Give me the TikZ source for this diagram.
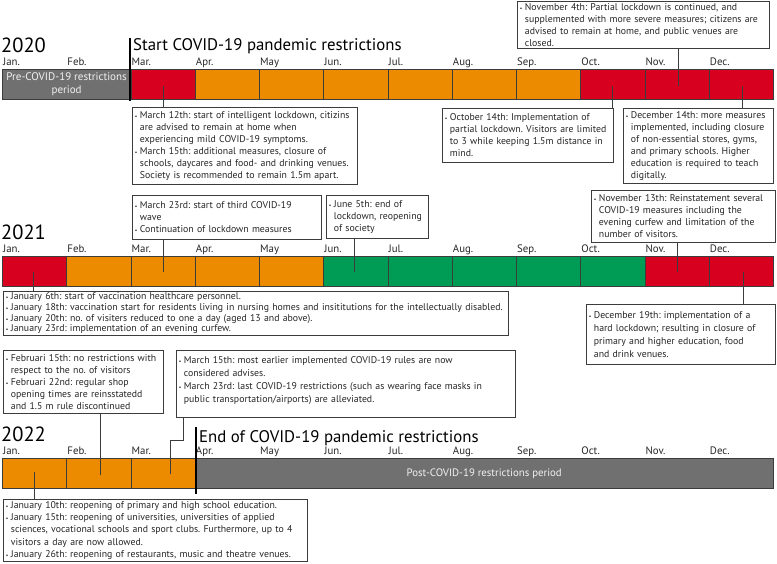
\documentclass[tikz,border=0pt]{standalone}
\usepackage{fontspec}
\setmainfont{PT Sans}
\frenchspacing
\newcommand\bul{\makebox[5pt][l]{\fontsize{5.5}{5.5}\selectfont\textbullet}}
\newcommand\sig{\hspace*{5pt}}
\begin{document}
\begin{tikzpicture}[x=1pt,y=-1pt,
        celda/.style={draw=linea, line width=0.7pt, anchor=north west, inner sep=0pt,
            minimum height=30pt, minimum width=64.25pt},
        caja/.style={draw=linea, line width=0.8pt, fill=white, anchor=north west, align=left,
            inner xsep=2.5pt, inner ysep=1pt, text=black!85, font=\fontsize{9.8}{12}\selectfont},
        mes/.style={anchor=base west, inner sep=0pt, text=black!85, font=\fontsize{10.8}{12}\selectfont},
        anio/.style={anchor=base west, inner sep=0pt, font=\fontsize{20.5}{22}\selectfont},
        titulo/.style={anchor=base west, inner sep=0pt, font=\fontsize{16.8}{18}\selectfont},
        conector/.style={draw=linea, line width=0.8pt},
        marca/.style={line width=2pt}]
        %colores
        \definecolor{rojo}{RGB}{216,0,31}
        \definecolor{nar}{RGB}{236,139,0}
        \definecolor{verde}{RGB}{0,155,85}
        \definecolor{gris}{RGB}{112,112,112}
        \definecolor{linea}{RGB}{60,60,60}

        \useasboundingbox (0,0) rectangle (777,563);

        %anios y meses
        \foreach \yr/\yy in {2020/69,2021/256,2022/458}{
            \node[anio] (y\yr) at (1,{\yy-17}) {\yr};
            \foreach \m [count=\i from 0] in {Jan.,Feb.,Mar.,Apr.,May,Jun.,Jul.,Aug.,Sep.,Oct.,Nov.,Dec.}
                \node[mes] (l\yr-\i) at ({3+64.25*\i},{\yy-4}) {\m};
        }

        %barra 2020
        \node[celda, minimum width=128.5pt, fill=gris, text=white!90!gris, align=center,
            font=\fontsize{11}{13}\selectfont] (pre) at (2,69) {Pre-COVID-19 restrictions\\period};
        \foreach \i/\c in {2/rojo,3/nar,4/nar,5/nar,6/nar,7/nar,8/nar,9/rojo,10/rojo,11/rojo}
            \node[celda, fill=\c] (a\i) at ({2+64.25*\i},69) {};

        %barra 2021
        \foreach \i/\c in {0/rojo,1/nar,2/nar,3/nar,4/nar,5/verde,6/verde,7/verde,8/verde,9/verde,10/rojo,11/rojo}
            \node[celda, fill=\c] (b\i) at ({2+64.25*\i},256) {};

        %barra 2022
        \foreach \i in {0,1,2}
            \node[celda, fill=nar] (c\i) at ({2+64.25*\i},458) {};
        \node[celda, minimum width=578.25pt, fill=gris, text=white!90!gris,
            font=\fontsize{10.8}{12}\selectfont] (post) at (194.75,458) {Post-COVID-19 restrictions period};

        %inicio y fin
        \coordinate (s1) at (130,38);
        \coordinate (s2) at (130,101);
        \coordinate (e1) at (196,427);
        \coordinate (e2) at (196,494);
        \draw[marca] (s1) -- (s2);
        \draw[marca] (e1) -- (e2);
        \node[titulo] (inicio) at (133,50) {Start COVID-19 pandemic restrictions};
        \node[titulo] (fin) at (199,442) {End of COVID-19 pandemic restrictions};

        %cuadros 2020
        \node[caja, text width=220pt, minimum height=77pt] (b20mar) at (132,107) {%
            \bul March 12th: start of intelligent lockdown, citizins\\
            \sig are advised to remain at home when\\
            \sig experiencing mild COVID-19 symptoms.\\
            \bul March 15th: additional measures, closure of\\
            \sig schools, daycares and food- and drinking venues.\\
            \sig Society is recommended to remain 1.5m apart.};
        \node[caja, text width=166pt, minimum height=54pt] (b20oct) at (442,108) {%
            \bul October 14th: Implementation of\\
            \sig partial lockdown. Visitors are limited\\
            \sig to 3 while keeping 1.5m distance in\\
            \sig mind.};
        \node[caja, text width=145pt, minimum height=75pt] (b20dec) at (623,108) {%
            \bul December 14th: more measures\\
            \sig implemented, including closure\\
            \sig of non-essential stores, gyms,\\
            \sig and primary schools. Higher\\
            \sig education is required to teach\\
            \sig digitally.};
        \node[caja, text width=247pt, minimum height=47pt, inner ysep=0pt] (b20nov) at (517,1) {%
            \bul November 4th: Partial lockdown is continued, and\\
            \sig supplemented with more severe measures; citizens are\\
            \sig advised to remain at home, and public venues are\\
            \sig closed.};

        %cuadros 2021
        \node[caja, text width=184pt, minimum height=44pt] (b21mar) at (132,195) {%
            \bul March 23rd: start of third COVID-19\\
            \sig wave\\
            \bul Continuation of lockdown measures};
        \node[caja, text width=97pt, minimum height=43pt] (b21jun) at (326,195) {%
            \bul June 5th: end of\\
            \sig lockdown, reopening\\
            \sig of society};
        \node[caja, text width=179pt, minimum height=52pt] (b21nov) at (591,190) {%
            \bul November 13th: Reinstatement several\\
            \sig COVID-19 measures including the\\
            \sig evening curfew and limitation of the\\
            \sig number of visitors.};
        \node[caja, text width=500pt, minimum height=42pt, inner ysep=1.5pt,
            font=\fontsize{9.8}{10.7}\selectfont] (b21jan) at (3,291) {%
            \bul January 6th: start of vaccination healthcare personnel.\\
            \bul January 18th: vaccination start for residents living in nursing homes and insititutions for the intellectually disabled.\\
            \bul January 20th: no. of visiters reduced to one a day (aged 13 and above).\\
            \bul January 23rd: implementation of an evening curfew.};
        \node[caja, text width=184pt, minimum height=60pt,
            font=\fontsize{9.8}{13}\selectfont] (b21dec) at (586,304) {%
            \bul December 19th: implementation of a\\
            \sig hard lockdown; resulting in closure of\\
            \sig primary and higher education, food\\
            \sig and drink venues.};
        \node[caja, text width=155pt, minimum height=63pt] (b21feb) at (3,350) {%
            \bul Februari 15th: no restrictions with\\
            \sig respect to the no. of visitors\\
            \bul Februari 22nd: regular shop\\
            \sig opening times are reinsstatedd\\
            \sig and 1.5 m rule discontinued};
        \node[caja, text width=334pt, minimum height=67pt,
            font=\fontsize{9.8}{13}\selectfont] (b21marb) at (176,350) {%
            \bul March 15th: most earlier implemented COVID-19 rules are now\\
            \sig considered advises.\\
            \bul March 23rd: last COVID-19 restrictions (such as wearing face masks in\\
            \sig public transportation/airports) are alleviated.\\[-4pt]
            \mbox{}};

        %cuadro 2022
        \node[caja, text width=299pt, minimum height=62pt,
            font=\fontsize{9.8}{12.3}\selectfont] (b22jan) at (3,499) {%
            \bul January 10th: reopening of primary and high school education.\\
            \bul January 15th: reopening of universities, universities of applied\\
            \sig sciences, vocational schools and sport clubs. Furthermore, up to 4\\
            \sig visitors a day are now allowed.\\
            \bul January 26th: reopening of restaurants, music and theatre venues.};

        %conectores
        \coordinate (p1) at (163,86);
        \coordinate (p2) at (612,86);
        \coordinate (p3) at (742,86);
        \coordinate (p4) at (678,86);
        \coordinate (q1) at (163,272);
        \coordinate (q2) at (354,272);
        \coordinate (q3) at (677,272);
        \coordinate (q4) at (33,272);
        \coordinate (q5) at (743,272);
        \coordinate (r1) at (100,475);
        \coordinate (r2) at (170,474);
        \coordinate (r3) at (34,472);
        \coordinate (codo) at (183,440);
        \draw[conector] (p1) -- (p1 |- b20mar.north);
        \draw[conector] (p2) -- (p2 |- b20oct.north);
        \draw[conector] (p3) -- (p3 |- b20dec.north);
        \draw[conector] (p4 |- b20nov.south) -- (p4);
        \draw[conector] (q1 |- b21mar.south) -- (q1);
        \draw[conector] (q2 |- b21jun.south) -- (q2);
        \draw[conector] (q3 |- b21nov.south) -- (q3);
        \draw[conector] (q4) -- (q4 |- b21jan.north);
        \draw[conector] (q5) -- (q5 |- b21dec.north);
        \draw[conector] (r1 |- b21feb.south) -- (r1);
        \draw[conector] (codo |- b21marb.south) -- (codo) -| (r2);
        \draw[conector] (r3) -- (r3 |- b22jan.north);
    \end{tikzpicture}
\end{document}
